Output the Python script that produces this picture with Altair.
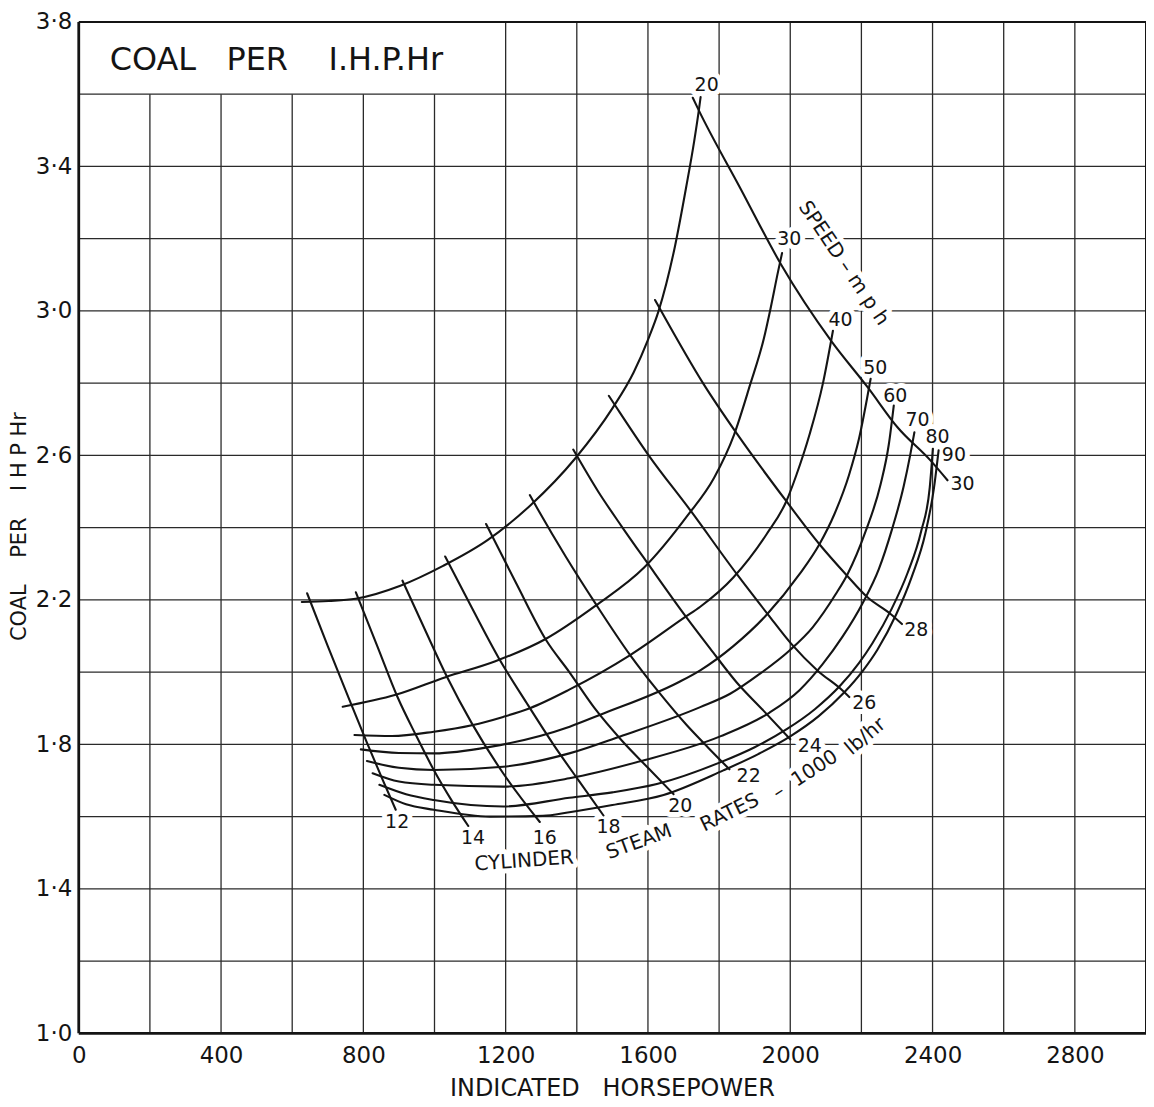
import altair as alt
import pandas as pd

FONT = "DejaVu Sans"
INK = "#141414"
GRID = "#2a2a2a"

# ---------------- axis ticks ----------------
x_ticks = [0, 400, 800, 1200, 1600, 2000, 2400, 2800]
y_ticks = [1.0, 1.4, 1.8, 2.2, 2.6, 3.0, 3.4, 3.8]

# ---------------- constant-speed curves (mph) : IHP, coal per IHP-hr ----------------
s20_hp = [627, 702, 778, 904, 1024, 1150, 1270, 1396, 1500, 1560, 1600, 1630, 1676, 1707, 1730, 1743, 1748]
s20_coal = [2.194, 2.197, 2.203, 2.239, 2.294, 2.366, 2.462, 2.592, 2.73, 2.83, 2.92, 3.0, 3.179, 3.34, 3.47, 3.555, 3.592]

s30_hp = [742, 891, 1031, 1171, 1311, 1453, 1590, 1711, 1786, 1842, 1887, 1926, 1943, 1966, 1977]
s30_coal = [1.904, 1.937, 1.986, 2.030, 2.091, 2.184, 2.290, 2.433, 2.538, 2.657, 2.795, 2.924, 2.999, 3.11, 3.16]

s40_hp = [775, 880, 998, 1105, 1193, 1268, 1380, 1550, 1704, 1747, 1840, 1933, 1989, 2017, 2054, 2092, 2120]
s40_coal = [1.826, 1.823, 1.835, 1.853, 1.876, 1.900, 1.952, 2.047, 2.152, 2.181, 2.262, 2.381, 2.473, 2.545, 2.657, 2.80, 2.945]

s50_hp = [793, 900, 1000, 1156, 1380, 1466, 1686, 1747, 1840, 1933, 2026, 2082, 2124, 2165, 2193, 2226]
s50_coal = [1.786, 1.776, 1.775, 1.793, 1.849, 1.882, 1.972, 2.005, 2.072, 2.158, 2.271, 2.354, 2.437, 2.545, 2.645, 2.812]

s60_hp = [810, 900, 998, 1193, 1379, 1522, 1747, 1831, 1914, 1998, 2063, 2128, 2161, 2212, 2254, 2277, 2291]
s60_coal = [1.754, 1.735, 1.729, 1.738, 1.775, 1.822, 1.903, 1.94, 1.995, 2.06, 2.124, 2.216, 2.271, 2.39, 2.52, 2.63, 2.738]

s70_hp = [826, 900, 998, 1193, 1379, 1578, 1803, 1942, 2026, 2091, 2147, 2203, 2249, 2286, 2319, 2337, 2349]
s70_coal = [1.720, 1.697, 1.688, 1.683, 1.706, 1.753, 1.822, 1.888, 1.950, 2.022, 2.098, 2.19, 2.285, 2.395, 2.515, 2.60, 2.664]

s80_hp = [845, 920, 998, 1193, 1379, 1500, 1625, 1803, 1900, 1990, 2070, 2140, 2193, 2231, 2285, 2330, 2368, 2392, 2401]
s80_coal = [1.688, 1.662, 1.646, 1.628, 1.652, 1.667, 1.690, 1.750, 1.792, 1.842, 1.898, 1.962, 2.025, 2.08, 2.175, 2.275, 2.39, 2.51, 2.618]

s90_hp = [859, 920, 998, 1156, 1305, 1379, 1500, 1644, 1812, 1910, 2000, 2080, 2150, 2205, 2245, 2298, 2342, 2380, 2404, 2417]
s90_coal = [1.660, 1.634, 1.619, 1.600, 1.602, 1.612, 1.632, 1.660, 1.728, 1.773, 1.822, 1.878, 1.942, 2.005, 2.062, 2.16, 2.265, 2.385, 2.51, 2.614]

# ---------------- constant cylinder steam-rate lines (1000 lb/hr) ----------------
st12_hp = [642, 700, 760, 810, 855, 891]
st12_coal = [2.218, 2.072, 1.925, 1.805, 1.70, 1.619]

st14_hp = [779, 840, 896, 948, 998, 1048, 1095]
st14_coal = [2.221, 2.07, 1.931, 1.825, 1.729, 1.645, 1.574]

st16_hp = [910, 972, 1035, 1105, 1193, 1296]
st16_coal = [2.253, 2.12, 1.987, 1.858, 1.72, 1.585]

st18_hp = [1030, 1105, 1180, 1260, 1334, 1405, 1475]
st18_coal = [2.32, 2.178, 2.04, 1.913, 1.80, 1.70, 1.603]

st20_hp = [1145, 1230, 1314, 1379, 1450, 1527, 1600, 1672]
st20_coal = [2.41, 2.245, 2.088, 2.0, 1.9, 1.81, 1.735, 1.662]

st22_hp = [1268, 1292, 1370, 1455, 1550, 1630, 1710, 1770, 1829]
st22_coal = [2.49, 2.448, 2.318, 2.186, 2.047, 1.945, 1.852, 1.79, 1.731]

st24_hp = [1390, 1460, 1525, 1600, 1704, 1775, 1849, 1924, 2000]
st24_coal = [2.616, 2.50, 2.405, 2.30, 2.157, 2.065, 1.972, 1.894, 1.814]

st26_hp = [1490, 1508, 1600, 1722, 1850, 1937, 2003, 2077, 2147, 2166]
st26_coal = [2.765, 2.738, 2.603, 2.444, 2.271, 2.16, 2.078, 2.004, 1.949, 1.931]

st28_hp = [1620, 1633, 1756, 1850, 1989, 2082, 2156, 2217, 2282, 2314]
st28_coal = [3.03, 3.007, 2.798, 2.66, 2.473, 2.354, 2.271, 2.207, 2.161, 2.133]

st30_hp = [1726, 1743, 1860, 1975, 2115, 2218, 2302, 2394, 2442]
st30_coal = [3.59, 3.555, 3.339, 3.127, 2.917, 2.788, 2.677, 2.586, 2.531]

# ---------------- curve labels ----------------
label_text = ["20", "30", "40", "50", "60", "70", "80", "90",
              "30", "28", "26", "24", "22", "20", "18", "16", "14", "12"]
label_hp = [1765, 1997, 2141, 2239, 2295, 2358, 2414, 2460,
            2484, 2354, 2208, 2055, 1883, 1691, 1489, 1310, 1108, 895]
label_coal = [3.625, 3.200, 2.976, 2.841, 2.763, 2.698, 2.650, 2.601,
              2.521, 2.116, 1.915, 1.794, 1.712, 1.629, 1.570, 1.542, 1.542, 1.586]

phrase_text = ["SPEED\u00a0–\u00a0m\u00a0p\u00a0h", "CYLINDER", "STEAM", "RATES",
               "–\u00a0\u00a01000", "lb/hr"]
phrase_hp = [2150, 1252, 1575, 1830, 2042, 2211]
phrase_coal = [3.132, 1.477, 1.530, 1.611, 1.716, 1.822]
phrase_angle = [56, 356, 340, 334, 327, 320]

# ---------------- build tables ----------------
speed_sets = [("v20", s20_hp, s20_coal), ("v30", s30_hp, s30_coal), ("v40", s40_hp, s40_coal),
              ("v50", s50_hp, s50_coal), ("v60", s60_hp, s60_coal), ("v70", s70_hp, s70_coal),
              ("v80", s80_hp, s80_coal), ("v90", s90_hp, s90_coal)]
steam_sets = [("r12", st12_hp, st12_coal), ("r14", st14_hp, st14_coal), ("r16", st16_hp, st16_coal),
              ("r18", st18_hp, st18_coal), ("r20", st20_hp, st20_coal), ("r22", st22_hp, st22_coal),
              ("r24", st24_hp, st24_coal), ("r26", st26_hp, st26_coal), ("r28", st28_hp, st28_coal),
              ("r30", st30_hp, st30_coal)]
rows = []
for name, hp, coal in speed_sets + steam_sets:
    for i, (a, b) in enumerate(zip(hp, coal)):
        rows.append({"curve": name, "order": i, "hp": a, "coal": b})
lines_df = pd.DataFrame(rows)

ann = pd.DataFrame({
    "text": label_text + phrase_text,
    "hp": label_hp + phrase_hp,
    "coal": label_coal + phrase_coal,
    "angle": [0] * len(label_text) + phrase_angle,
    "size": [19] * len(label_text) + [20] * len(phrase_text),
})

vx = [200 * i for i in range(1, 15)]
vgrid = pd.DataFrame({"hp": vx, "coal": [1.0] * len(vx),
                      "coal2": [3.6 if v <= 1000 else 3.8 for v in vx]})
hy = [round(1.0 + 0.2 * i, 1) for i in range(1, 14)]
hgrid = pd.DataFrame({"coal": hy, "hp": [0] * len(hy), "hp2": [3000] * len(hy)})
frame_thick = pd.DataFrame({"hp": [0, 0], "hp2": [0, 3000], "coal": [1.0, 1.0], "coal2": [3.8, 1.0]})
frame_thin = pd.DataFrame({"hp": [0, 3000], "hp2": [3000, 3000], "coal": [3.8, 1.0], "coal2": [3.8, 3.8]})
title_df = pd.DataFrame({"text": ["COAL\u00a0\u00a0\u00a0PER\u00a0\u00a0\u00a0\u00a0I.H.P.Hr"],
                         "hp": [87], "coal": [3.668]})

xs = alt.Scale(domain=[0, 3000], nice=False, zero=False)
ys = alt.Scale(domain=[1.0, 3.8], nice=False, zero=False)

x_axis = alt.Axis(values=x_ticks, grid=False, ticks=False, domain=False, labelFlush=False,
                  format="d",
                  labelFont=FONT, labelFontSize=23, labelColor=INK, labelPadding=11,
                  title="INDICATED\u00a0\u00a0\u00a0HORSEPOWER", titleFont=FONT, titleFontSize=24,
                  titleFontWeight="normal", titleColor=INK, titleX=535, titleY=62,
                  titleAlign="center", titleBaseline="alphabetic")
y_axis = alt.Axis(values=y_ticks, grid=False, ticks=False, domain=False,
                  labelExpr="replace(format(datum.value, '.1f'), '.', '·')",
                  labelFont=FONT, labelFontSize=23, labelColor=INK, labelPadding=7,
                  title="COAL\u00a0\u00a0\u00a0\u00a0PER\u00a0\u00a0\u00a0\u00a0I\u00a0H\u00a0P\u00a0Hr",
                  titleFont=FONT, titleFontSize=21, titleFontWeight="normal", titleColor=INK,
                  titleAngle=270, titleX=-59, titleY=506, titleAlign="center", titleBaseline="middle")

X = alt.X("hp:Q", scale=xs, axis=x_axis)
Y = alt.Y("coal:Q", scale=ys, axis=y_axis)

vg = alt.Chart(vgrid).mark_rule(color=GRID, strokeWidth=1.3).encode(x=X, y=Y, y2="coal2:Q")
hg = alt.Chart(hgrid).mark_rule(color=GRID, strokeWidth=1.3).encode(x=X, x2="hp2:Q", y=Y)
fr1 = alt.Chart(frame_thick).mark_rule(color=INK, strokeWidth=2.8).encode(x=X, x2="hp2:Q", y=Y, y2="coal2:Q")
fr2 = alt.Chart(frame_thin).mark_rule(color=INK, strokeWidth=2.0).encode(x=X, x2="hp2:Q", y=Y, y2="coal2:Q")

halo = alt.Chart(ann).mark_text(font=FONT, align="center", baseline="middle",
                                fill="white", stroke="white", strokeWidth=10,
                                strokeJoin="round").encode(
    x=X, y=Y, text="text:N",
    angle=alt.Angle("angle:Q", scale=None),
    size=alt.Size("size:Q", scale=None))

curves = alt.Chart(lines_df).mark_line(interpolate="monotone", strokeWidth=2.1, color=INK,
                                       strokeCap="round").encode(
    x=X, y=Y, detail="curve:N", order="order:Q")

labels = alt.Chart(ann).mark_text(font=FONT, align="center", baseline="middle",
                                  color=INK).encode(
    x=X, y=Y, text="text:N",
    angle=alt.Angle("angle:Q", scale=None),
    size=alt.Size("size:Q", scale=None))

title = alt.Chart(title_df).mark_text(font=FONT, fontSize=32, align="left", baseline="alphabetic",
                                      color=INK).encode(x=X, y=Y, text="text:N")

chart = alt.layer(vg, hg, halo, fr1, fr2, curves, labels, title).properties(
    width=1071, height=1015,
    autosize=alt.AutoSizeParams(type="none"),
    padding={"left": 71, "top": 12, "right": 0, "bottom": 72},
    background="white",
).configure_view(stroke=None)

chart.save("out.html", embed_options={"renderer": "svg", "actions": False})
